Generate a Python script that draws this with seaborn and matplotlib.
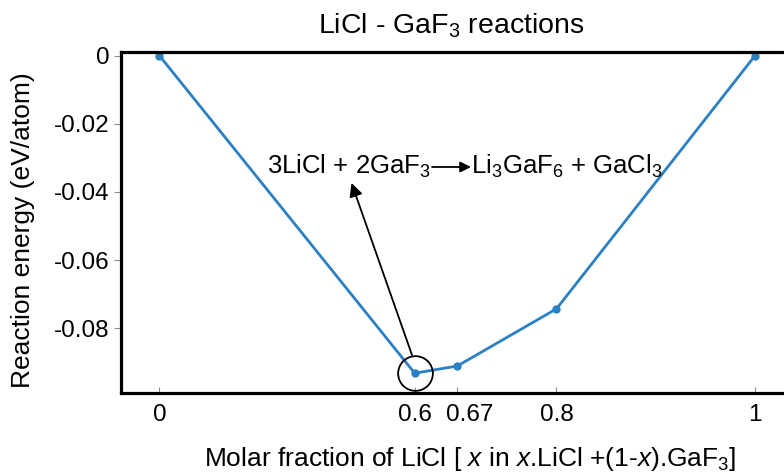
import numpy as np
import matplotlib
matplotlib.use("Agg")
import matplotlib.pyplot as plt
import matplotlib.transforms as mtransforms
import seaborn as sns

# Molar fraction of LiCl and the reaction energy at each composition
x_licl = [0, 0.6, 2 / 3, 0.8, 1]
energy = [0, -0.0932, -0.0911, -0.0743, 0]

x_ticks = [0, 0.6, 2 / 3, 0.8, 1]
x_tick_labels = ["0", "0.6", "0.67", "0.8", "1"]
y_ticks = [0, -0.02, -0.04, -0.06, -0.08]
y_tick_labels = ["0", "-0.02", "-0.04", "-0.06", "-0.08"]

sns.set_theme(style="white")
plt.rcParams["font.family"] = ["Liberation Sans", "DejaVu Sans"]
plt.rcParams["mathtext.fontset"] = "custom"
plt.rcParams["mathtext.rm"] = "Liberation Sans"
plt.rcParams["mathtext.it"] = "Liberation Sans:italic"
plt.rcParams["mathtext.bf"] = "Liberation Sans:bold"


# LiCl carries 2 atoms per formula unit and GaF3 carries 4, so the
# horizontal axis is spaced by the atomic fraction x / (2 - x)
def to_atomic(x):
    x = np.asarray(x, dtype=float)
    return x / (2 - x)


def from_atomic(a):
    a = np.asarray(a, dtype=float)
    return 2 * a / (1 + a)


W, H = 784, 474
fig = plt.figure(figsize=(W / 100, H / 100), dpi=100)
ax = fig.add_axes([120.7 / W, 1 - 393.3 / H, 1 - 120.7 / W, (393.3 - 51.7) / H])
ax.set_xscale("function", functions=(to_atomic, from_atomic))

blue = "#2b7fc3"
sns.lineplot(x=x_licl, y=energy, ax=ax, color=blue, linewidth=2.0,
             marker="o", markersize=6, markeredgewidth=0, markeredgecolor=blue)

# circle highlighting the 3LiCl + 2GaF3 composition
ax.plot(x_licl[1], energy[1], marker="o", markersize=25, markerfacecolor="none",
        markeredgecolor="black", markeredgewidth=1.3, zorder=5)

ax.set_xlim(float(from_atomic(-0.0651)), float(from_atomic(1.0487)))
ax.set_ylim(-0.0991, 0.00117)

ax.set_xticks(x_ticks)
ax.set_xticklabels(x_tick_labels)
ax.set_yticks(y_ticks)
ax.set_yticklabels(y_tick_labels)
ax.xaxis.set_minor_locator(matplotlib.ticker.NullLocator())

ax.tick_params(axis="x", bottom=True, direction="in", length=4, width=0.8,
               color="0.55", labelsize=17.5, pad=8, labelcolor="black")
ax.tick_params(axis="y", left=True, direction="out", length=5, width=0.8,
               color="0.55", labelsize=17.5, pad=3, labelcolor="black")

# nudge the crowded "0.67" label to the right of its tick
nudge = mtransforms.ScaledTranslation(12 / 100, 0, fig.dpi_scale_trans)
xlabels = ax.get_xticklabels()
xlabels[2].set_transform(xlabels[2].get_transform() + nudge)

for side in ["left", "top", "bottom"]:
    ax.spines[side].set_color("black")
    ax.spines[side].set_linewidth(2.3)
ax.spines["right"].set_visible(False)

ax.set_title("LiCl - GaF$_3$ reactions", fontsize=20.5, color="black",
             x=(451 - 120.7) / (W - 120.7), pad=13)
ax.set_ylabel("Reaction energy (eV/atom)", fontsize=19, color="black")
ax.yaxis.set_label_coords(35 / W, 1 - 230 / H, transform=fig.transFigure)
ax.set_xlabel("Molar fraction of LiCl [ $x$ in $x$.LiCl +(1-$x$).GaF$_3$]",
              fontsize=19, color="black")
ax.xaxis.set_label_coords(470 / W, 1 - 445 / H, transform=fig.transFigure)

# reaction equation with its own arrow
fig.text(431 / W, 1 - 174 / H, "3LiCl + 2GaF$_3$", ha="right", va="baseline",
         fontsize=18.5, color="black")
fig.text(471 / W, 1 - 174 / H, "Li$_3$GaF$_6$ + GaCl$_3$", ha="left", va="baseline",
         fontsize=18.5, color="black")
fig.add_artist(matplotlib.patches.FancyArrowPatch(
    (432 / W, 1 - 167 / H), (471 / W, 1 - 167 / H), transform=fig.transFigure,
    arrowstyle="-|>", mutation_scale=16, color="black", lw=1.3,
    shrinkA=0, shrinkB=0))

# pointer from the equation down to the highlighted composition
fig.add_artist(matplotlib.patches.FancyArrowPatch(
    (412 / W, 1 - 355 / H), (351.5 / W, 1 - 183 / H), transform=fig.transFigure,
    arrowstyle="-|>", mutation_scale=20, color="black", lw=1.3,
    shrinkA=0, shrinkB=0))

fig.savefig("out.png", dpi=100)
